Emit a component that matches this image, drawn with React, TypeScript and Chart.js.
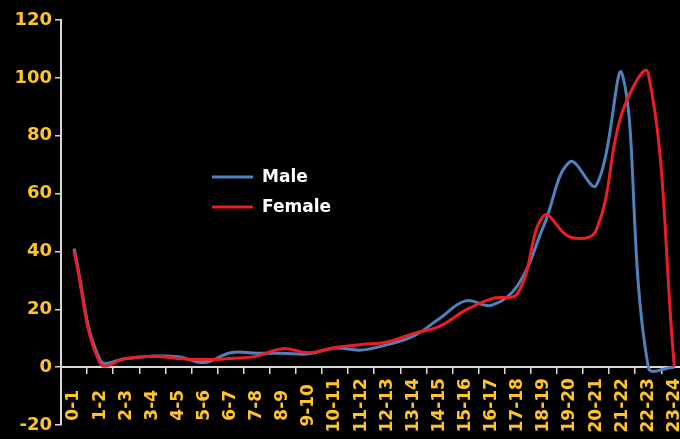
import React, { useEffect, useRef } from 'react';
import { Chart, registerables } from 'chart.js';

Chart.register(...registerables);

const categories = [
  '0-1', '1-2', '2-3', '3-4', '4-5', '5-6', '6-7', '7-8', '8-9', '9-10', '10-11', '11-12',
  '12-13', '13-14', '14-15', '15-16', '16-17', '17-18', '18-19', '19-20', '20-21', '21-22', '22-23', '23-24',
];
const maleValues = [41, 2.4, 3, 3.8, 3.6, 1.6, 5, 4.8, 4.8, 4.6, 6.6, 5.9, 7.8, 10.7, 16.8, 22.9, 21.4, 28.3, 49, 71, 62.8, 101.3, 0, 0];
const femaleValues = [40, 1.3, 3, 3.8, 3, 2.6, 3, 3.8, 6.4, 5, 6.8, 7.8, 8.7, 11.6, 14.1, 19.7, 23.7, 25.6, 52.4, 45, 47.2, 88, 101.5, 0];
const yMin = -20;
const yMax = 120;
const yStep = 20;
const seriesNames = ['Male', 'Female'];

const GOLD = '#FFC526';
const AXIS = '#D9D9D9';
const FONT = '"DejaVu Sans", Verdana, sans-serif';

const insideLegend = {
  id: 'insideLegend',
  afterDraw(chart: any) {
    const ctx = chart.ctx;
    ctx.save();
    chart.data.datasets.forEach((ds: any, i: number) => {
      const y = 177 + i * 30;
      ctx.strokeStyle = ds.borderColor;
      ctx.lineWidth = 3;
      ctx.lineCap = 'butt';
      ctx.beginPath();
      ctx.moveTo(212, y);
      ctx.lineTo(253, y);
      ctx.stroke();
      ctx.fillStyle = '#FFFFFF';
      ctx.font = 'bold 17px ' + FONT;
      ctx.textBaseline = 'middle';
      ctx.textAlign = 'left';
      ctx.fillText(ds.label, 262, y + 1);
    });
    ctx.restore();
  },
};

export default function App() {
  const canvasRef = useRef<HTMLCanvasElement | null>(null);

  useEffect(() => {
    document.body.style.background = '#000';
    document.body.style.overflow = 'hidden';
    const canvas = canvasRef.current;
    if (!canvas) return;
    const chart = new Chart(canvas, {
      type: 'line',
      data: {
        labels: categories,
        datasets: [
          {
            label: seriesNames[0],
            data: maleValues,
            borderColor: '#4F81BD',
            backgroundColor: '#4F81BD',
            borderWidth: 3,
            pointRadius: 0,
            tension: 0.4,
            order: 1,
          },
          {
            label: seriesNames[1],
            data: femaleValues,
            borderColor: '#EE1C25',
            backgroundColor: '#EE1C25',
            borderWidth: 3,
            pointRadius: 0,
            tension: 0.4,
            order: 0,
          },
        ],
      },
      options: {
        animation: false,
        responsive: false,
        maintainAspectRatio: false,
        layout: { padding: { left: 0, right: 10, top: 20, bottom: 14 } },
        plugins: {
          legend: { display: false },
          tooltip: { enabled: false },
        },
        scales: {
          x: {
            type: 'category',
            position: { y: 0 } as any,
            offset: true,
            ticks: {
              color: GOLD,
              font: { family: FONT, size: 17, weight: 'bold' },
              minRotation: 90,
              maxRotation: 90,
              autoSkip: false,
              padding: 5,
              callback: function (this: any, value: any) {
                const s = String(this.getLabelForValue(value));
                const pad = s.length <= 3 ? '  ' : s.length === 4 ? ' ' : '';
                return s + pad;
              },
            },
            grid: {
              offset: true,
              drawOnChartArea: false,
              drawTicks: true,
              tickLength: 6,
              color: AXIS,
              lineWidth: 1.5,
            },
            border: { color: AXIS, width: 2 },
            afterFit: (s: any) => {
              s.height = 0;
            },
          },
          y: {
            min: yMin,
            max: yMax,
            ticks: {
              stepSize: yStep,
              color: GOLD,
              font: { family: FONT, size: 18, weight: 'bold' },
              padding: 3,
            },
            grid: {
              drawOnChartArea: false,
              drawTicks: true,
              tickLength: 6,
              color: AXIS,
              lineWidth: 1.5,
            },
            border: { color: AXIS, width: 2 },
            afterFit: (s: any) => {
              s.width = 61;
            },
          },
        },
      },
      plugins: [insideLegend],
    } as any);
    return () => chart.destroy();
  }, []);

  return (
    <div style={{ position: 'fixed', left: 0, top: 0, width: 700, height: 439, background: '#000' }}>
      <canvas ref={canvasRef} width={700} height={439} style={{ display: 'block', width: 700, height: 439 }} />
    </div>
  );
}
